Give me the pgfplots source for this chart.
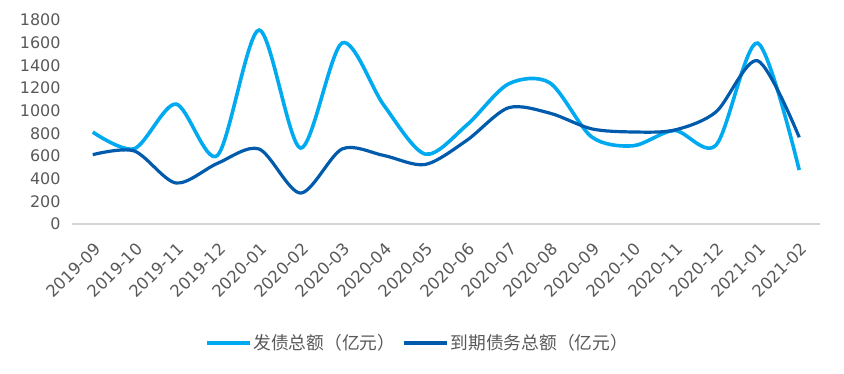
\documentclass[border=0pt]{standalone}
\usepackage{fontspec}
\setmainfont{Noto Sans CJK SC}
\newfontfamily\dejavu{DejaVu Sans}
\usepackage{pgfplots}
\pgfplotsset{compat=1.18}
\definecolor{lightb}{HTML}{00AAF0}
\definecolor{darkb}{HTML}{005BAC}
\definecolor{tickgray}{HTML}{595959}
\begin{document}
\begin{tikzpicture}
\path[use as bounding box] (-72bp,-150bp) rectangle (772bp,224bp);
\begin{axis}[
  scale only axis,
  width=748bp, height=204bp,
  xmin=-0.5, xmax=17.5,
  ymin=0, ymax=1800,
  ytick={0,200,...,1800},
  xtick={0,...,17},
  xticklabels={2019-09,2019-10,2019-11,2019-12,2020-01,2020-02,2020-03,2020-04,2020-05,2020-06,2020-07,2020-08,2020-09,2020-10,2020-11,2020-12,2021-01,2021-02},
  x tick label style={xshift=5bp, yshift=-22bp, rotate=45, anchor=east, font=\dejavu\fontsize{16.5}{18}\selectfont, text=tickgray, inner sep=0pt},
  y tick label style={font=\dejavu\fontsize{16}{18}\selectfont, text=tickgray},
  /pgf/number format/assume math mode=true,
  /pgf/number format/1000 sep={},
  axis x line*=bottom,
  axis y line*=left,
  y axis line style={draw=none},
  x axis line style={-, draw=black!17, line width=1.5bp},
  major tick length=0pt,
  yticklabel style={xshift=-8bp},
  clip=false,
  legend style={at={(axis description cs:0.462,-0.583)}, anchor=center, draw=none, legend columns=2,
    font=\fontsize{17.8}{19}\selectfont, text=tickgray,
    /tikz/every even column/.append style={column sep=5bp}},
  legend image code/.code={\draw[#1, line width=3.3bp] (0bp,0bp) -- (43bp,0bp);},
]
\addplot[lightb, line width=3.6bp, smooth, tension=0.5] coordinates {
(0,811)(1,665)(2,1058)(3,605)(4,1711)(5,670)(6,1597)(7,1050)(8,617)(9,873)(10,1235)(11,1245)(12,770)(13,690)(14,825)(15,697)(16,1596)(17,476)};
\addlegendentry{发债总额（亿元）}
\addplot[darkb, line width=3.2bp, smooth, tension=0.5] coordinates {
(0,612)(1,644)(2,362)(3,535)(4,662)(5,273)(6,662)(7,605)(8,525)(9,738)(10,1025)(11,978)(12,840)(13,812)(14,829)(15,990)(16,1440)(17,765)};
\addlegendentry{到期债务总额（亿元）}
\end{axis}
\end{tikzpicture}
\end{document}
